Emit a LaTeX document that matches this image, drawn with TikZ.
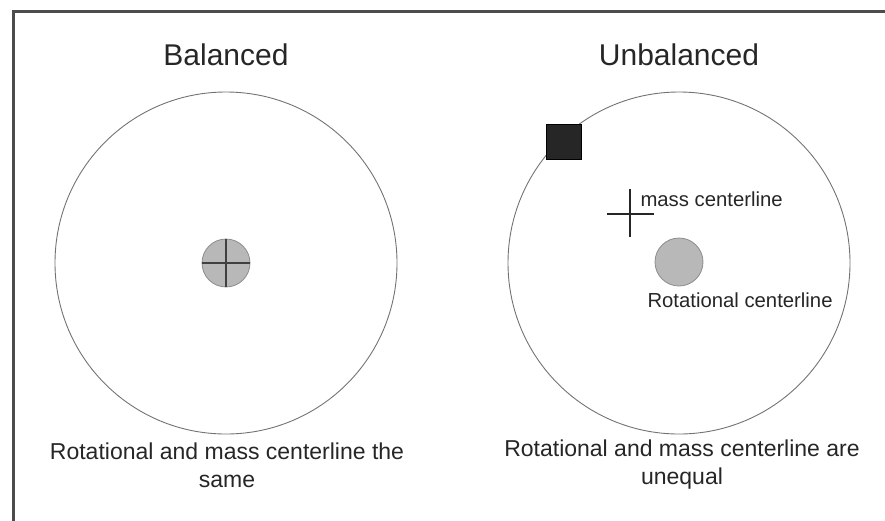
\documentclass[tikz,border=0pt]{standalone}
\usepackage{fontspec}
\setmainfont{Liberation Sans}
\begin{document}
\begin{tikzpicture}[x=1pt,y=-1pt,
  wheel/.style={circle,draw=black!55,line width=0.9pt,minimum size=342pt,inner sep=0pt},
  hub/.style={circle,draw=black!45,fill=black!28,line width=0.8pt,minimum size=48pt,inner sep=0pt},
  title/.style={font=\fontsize{30}{35}\selectfont,text=black!85},
  caption/.style={font=\fontsize{23}{28}\selectfont,align=center,text=black!85},
  label/.style={font=\fontsize{20.3}{23}\selectfont,text=black!85,anchor=west},
  weight/.style={draw=black,fill=black!85,minimum size=35pt,inner sep=0pt,line width=0.8pt}]
\useasboundingbox (0,0) rectangle (885,520);
% frame (right and bottom edges lie outside the picture)
\draw[line width=3pt,black!70] (13,530) -- (13,11) -- (895,11);
% titles
\node[title] (tL) at (226,55) {Balanced};
\node[title] (tR) at (679,55) {Unbalanced};
% wheels
\node[wheel] (wL) at (226,263) {};
\node[wheel] (wR) at (679,263) {};
% balanced hub with cross
\node[hub] (hL) at (226,263) {};
\draw[line width=2pt,black!75] (hL.west) -- (hL.east);
\draw[line width=2pt,black!75] (hL.north) -- (hL.south);
% unbalanced
\node[hub] (hR) at (679,262) {};
\node[weight] (sq) at (564,142) {};
\draw[line width=1.5pt,black!85] (607,214) -- (654,214);
\draw[line width=1.5pt,black!85] (630,189) -- (630,237);
\node[label] (lm) at (637,199) {mass centerline};
\node[label] (lr) at (644,300) {Rotational centerline};
% captions
\node[caption] (cL) at (227,465) {Rotational and mass centerline the\\same};
\node[caption] (cR) at (682,465) {Rotational and mass centerline are\\unequal};
\end{tikzpicture}
\end{document}
